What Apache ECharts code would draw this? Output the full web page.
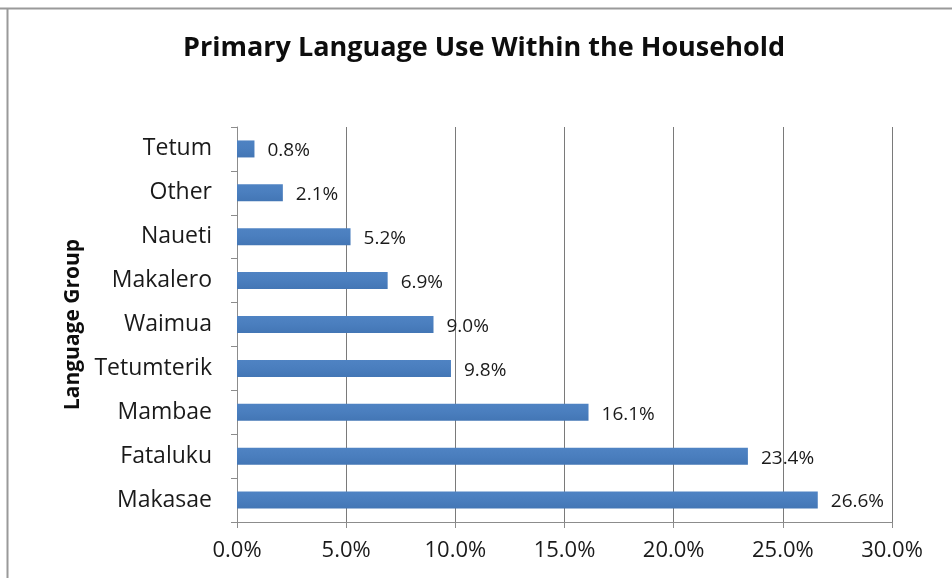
<!DOCTYPE html>
<html>
<head>
<meta charset="utf-8">
<script src="https://cdn.jsdelivr.net/npm/echarts@6/dist/echarts.min.js"></script>
<style>
  html, body { margin: 0; padding: 0; background: #ffffff; }
  #chart { width: 952px; height: 578px; }
</style>
</head>
<body>
<div id="chart"></div>
<script>
// Language groups, listed bottom to top along the category axis
const languages = ['Makasae', 'Fataluku', 'Mambae', 'Tetumterik', 'Waimua', 'Makalero', 'Naueti', 'Other', 'Tetum'];
// Share of households using each as primary language (%)
const shares = [26.6, 23.4, 16.1, 9.8, 9.0, 6.9, 5.2, 2.1, 0.8];
// Value axis ticks (%)
const shareTicks = [0, 5, 10, 15, 20, 25, 30];

const font = '"Open Sans", "Noto Sans", sans-serif';
const chart = echarts.init(document.getElementById('chart'));

chart.setOption({
  backgroundColor: '#ffffff',
  animation: false,
  title: {
    text: 'Primary Language Use Within the Household',
    left: 479,
    textAlign: 'center',
    top: 30,
    textStyle: { fontFamily: font, fontSize: 27, fontWeight: 'bold', color: '#0d0d0d' }
  },
  grid: { left: 237, right: 60, top: 127, bottom: 56, containLabel: false },
  xAxis: {
    type: 'value',
    min: shareTicks[0],
    max: shareTicks[shareTicks.length - 1],
    interval: shareTicks[1] - shareTicks[0],
    axisLine: { show: true, lineStyle: { color: '#8c8c8c', width: 1 } },
    axisTick: { show: true, inside: false, length: 6, lineStyle: { color: '#8c8c8c' } },
    splitLine: { show: true, lineStyle: { color: '#7a7a7a', width: 1 } },
    axisLabel: {
      margin: 18,
      fontFamily: font, fontSize: 22, color: '#1a1a1a',
      formatter: v => v.toFixed(1) + '%'
    }
  },
  yAxis: {
    type: 'category',
    data: languages,
    name: 'Language Group',
    nameLocation: 'middle',
    nameGap: 153,
    nameRotate: 90,
    nameTextStyle: { fontFamily: font, fontSize: 21, fontWeight: 'bold', color: '#0d0d0d' },
    axisLine: { show: true, lineStyle: { color: '#8c8c8c', width: 1 } },
    axisTick: { show: true, inside: false, length: 6, alignWithLabel: false, lineStyle: { color: '#8c8c8c' } },
    splitLine: { show: false },
    axisLabel: { margin: 25, fontFamily: font, fontSize: 23, color: '#1a1a1a' }
  },
  series: [{
    type: 'bar',
    data: shares,
    barWidth: 17,
    itemStyle: {
      color: new echarts.graphic.LinearGradient(0, 0, 0, 1, [
        { offset: 0, color: '#4f83c3' },
        { offset: 0.5, color: '#4a7ebe' },
        { offset: 1, color: '#4376b5' }
      ])
    },
    label: {
      show: true,
      position: 'right',
      distance: 13,
      offset: [0, 2],
      fontFamily: font, fontSize: 19, color: '#1a1a1a',
      formatter: p => p.value.toFixed(1) + '%'
    }
  }],
  graphic: [
    { type: 'line', shape: { x1: 0, y1: 8.5, x2: 952, y2: 8.5 }, style: { stroke: '#9a9a9a', lineWidth: 2 } },
    { type: 'line', shape: { x1: 7.5, y1: 8, x2: 7.5, y2: 578 }, style: { stroke: '#9a9a9a', lineWidth: 2 } }
  ]
});
</script>
</body>
</html>
